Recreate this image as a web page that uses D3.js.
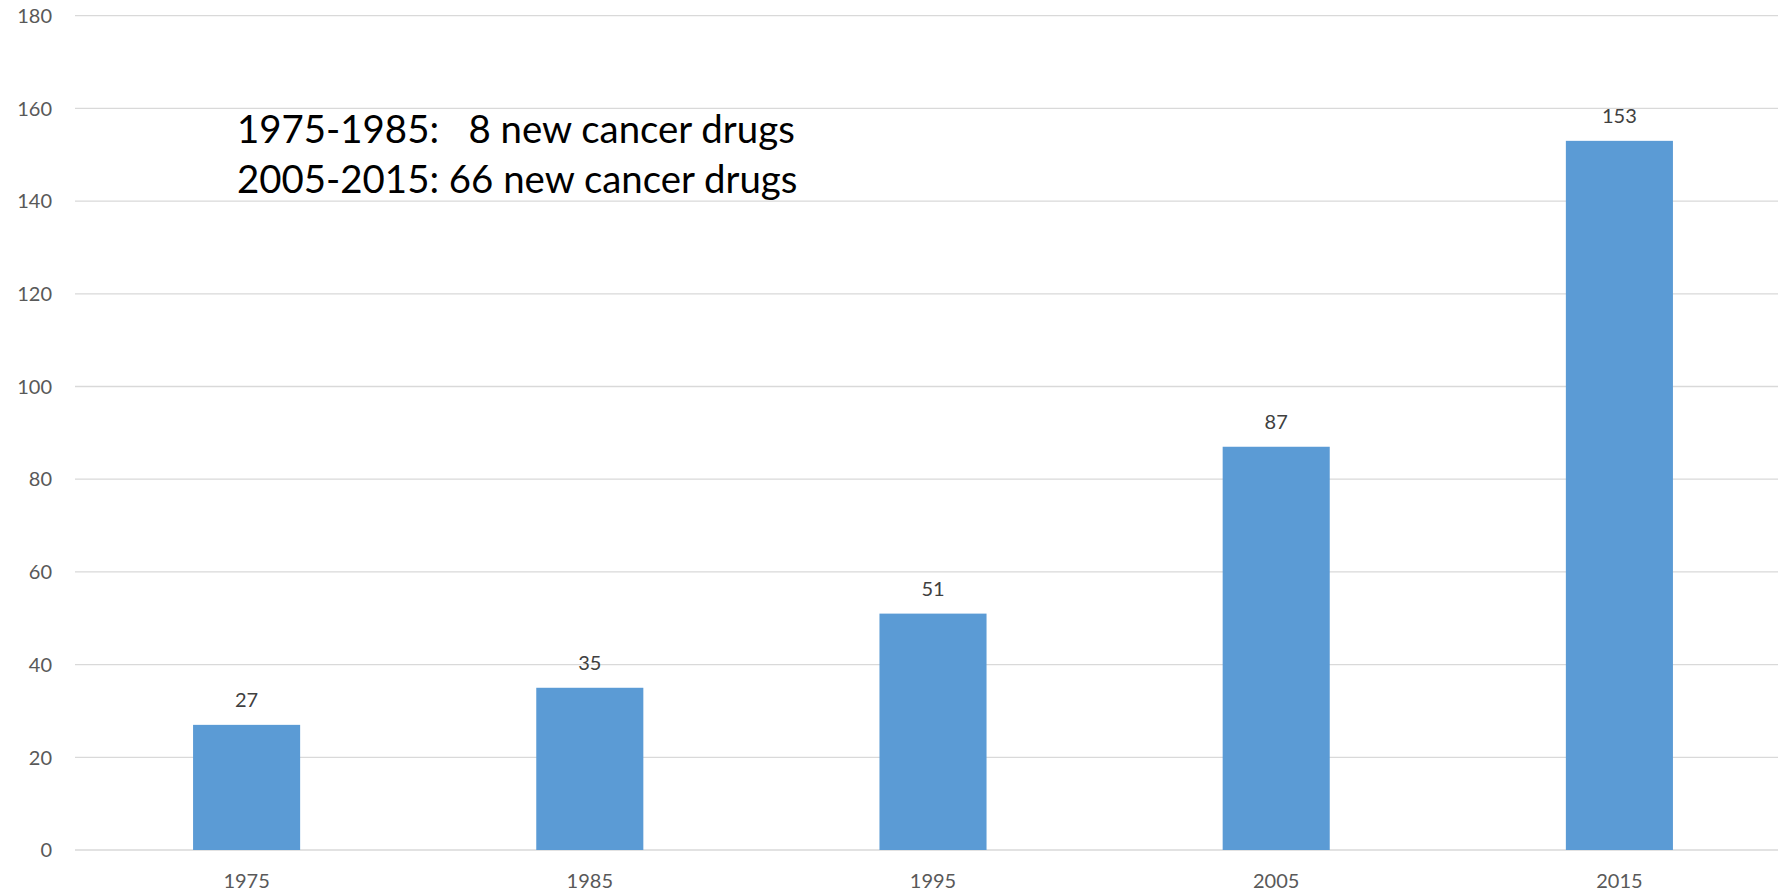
<!DOCTYPE html>
<html>
<head>
<meta charset="utf-8">
<script src="https://cdn.jsdelivr.net/npm/d3@7"></script>
<style>
  body { margin: 0; background: #fff; overflow: hidden; }
  text { font-family: Lato, "Open Sans", sans-serif; }
  .tick-label { fill: #595959; font-size: 20px; }
  .value-label { fill: #404040; font-size: 20px; }
  .note { fill: #000; font-size: 38.4px; }
</style>
</head>
<body>
<div id="wrapper"></div>
<script>
// data
const years = ["1975", "1985", "1995", "2005", "2015"]
const drugCounts = [27, 35, 51, 87, 153]
const yTicks = [0, 20, 40, 60, 80, 100, 120, 140, 160, 180]
const notes = ["1975-1985:   8 new cancer drugs", "2005-2015: 66 new cancer drugs"]

function drawChart() {
  const dimensions = {
    width: 1778,
    height: 895,
    left: 75,
    right: 1791,   // plot area runs a bit past the window, like the original
    top: 15.7,
    bottom: 850,
  }

  const svg = d3.select("#wrapper")
    .append("svg")
      .attr("width", dimensions.width)
      .attr("height", dimensions.height)

  const xScale = d3.scaleBand()
    .domain(years)
    .range([dimensions.left, dimensions.right])
    .paddingInner(0.688)
    .paddingOuter(0.344)

  const yScale = d3.scaleLinear()
    .domain([0, 180])
    .range([dimensions.bottom, dimensions.top])

  // gridlines + y labels
  svg.append("g")
    .selectAll("line")
    .data(yTicks)
    .join("line")
      .attr("x1", dimensions.left)
      .attr("x2", dimensions.width)
      .attr("y1", d => yScale(d))
      .attr("y2", d => yScale(d))
      .attr("stroke", "#d9d9d9")
      .attr("stroke-width", 1.3)

  svg.append("g")
    .selectAll("text")
    .data(yTicks)
    .join("text")
      .attr("class", "tick-label")
      .attr("x", 52)
      .attr("y", d => yScale(d))
      .attr("dy", "0.36em")
      .attr("text-anchor", "end")
      .text(d => d)

  // bars
  const data = years.map((y, i) => ({ year: y, value: drugCounts[i] }))

  svg.append("g")
    .selectAll("rect")
    .data(data)
    .join("rect")
      .attr("x", d => xScale(d.year))
      .attr("width", xScale.bandwidth())
      .attr("y", d => yScale(d.value))
      .attr("height", d => yScale(0) - yScale(d.value))
      .attr("fill", "#5b9bd5")

  svg.append("g")
    .selectAll("text")
    .data(data)
    .join("text")
      .attr("class", "value-label")
      .attr("x", d => xScale(d.year) + xScale.bandwidth() / 2)
      .attr("y", d => yScale(d.value) - 18)
      .attr("text-anchor", "middle")
      .text(d => d.value)

  // x labels
  svg.append("g")
    .selectAll("text")
    .data(years)
    .join("text")
      .attr("class", "tick-label")
      .attr("x", d => xScale(d) + xScale.bandwidth() / 2)
      .attr("y", 888)
      .attr("text-anchor", "middle")
      .text(d => d)

  // annotation
  svg.append("g")
    .selectAll("text")
    .data(notes)
    .join("text")
      .attr("class", "note")
      .attr("x", 237)
      .attr("y", (d, i) => 143 + i * 50)
      .attr("xml:space", "preserve")
      .style("white-space", "pre")
      .text(d => d)
}
drawChart()
</script>
</body>
</html>
